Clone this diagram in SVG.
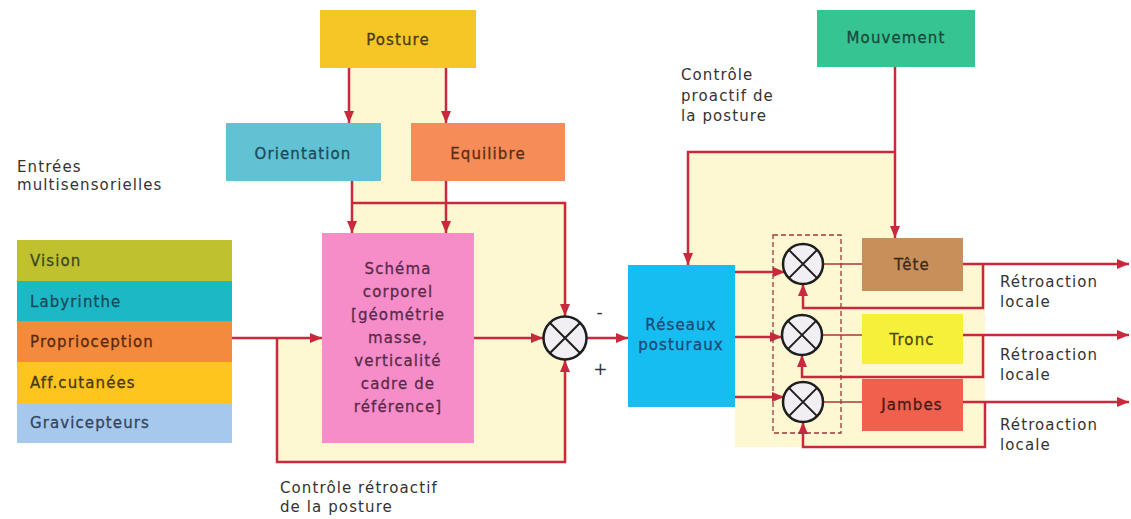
<svg xmlns="http://www.w3.org/2000/svg" width="1131" height="519" viewBox="0 0 1131 519">
<style>
text{font-family:"DejaVu Sans","Liberation Sans",sans-serif;font-size:15px;letter-spacing:1.1px;fill:#333}
.lbl{stroke-width:0.3px}
.c{text-anchor:middle}
.cn{fill:none;stroke:#c9283d;stroke-width:2.5}
.thin{fill:none;stroke:#a83838;stroke-width:1.6}
.sum{fill:#f1eef4;stroke:#1e1e1e;stroke-width:2.5}
.x{stroke:#1e1e1e;stroke-width:2}
</style>
<defs>
<marker id="ah" viewBox="0 0 12 10" refX="12" refY="5" markerWidth="12" markerHeight="10" markerUnits="userSpaceOnUse" orient="auto">
<path d="M0,0 L12,5 L0,10 Z" fill="#c9283d"/>
</marker>
</defs>
<rect width="1131" height="519" fill="#ffffff"/>
<g id="cream" fill="#fdf8d2">
<polygon points="349,68 446,68 446,203 567,203 567,462 277,462 277,338 322,338 322,233 352,233 352,123 349,123"/>
<polygon points="688,152 895,152 895,238 963,238 963,264 985,264 985,447 735,447 735,265 688,265"/>
</g>
<g id="labels">
<text x="17" y="172">Entrées</text>
<text x="17" y="190">multisensorielles</text>
<text x="681" y="80">Contrôle</text>
<text x="681" y="101">proactif de</text>
<text x="681" y="121">la posture</text>
<text x="280" y="493">Contrôle rétroactif</text>
<text x="280" y="512">de la posture</text>
<text x="1000" y="287">Rétroaction</text>
<text x="1000" y="307">locale</text>
<text x="1000" y="360">Rétroaction</text>
<text x="1000" y="380">locale</text>
<text x="1000" y="430">Rétroaction</text>
<text x="1000" y="450">locale</text>
<text x="600" y="318" class="c" style="font-size:17px">-</text>
<text x="601" y="375" class="c" style="font-size:17px">+</text>
</g>
<g id="connectors">
<path class="cn" d="M349,68 V123" marker-end="url(#ah)"/>
<path class="cn" d="M446,68 V123" marker-end="url(#ah)"/>
<path class="cn" d="M352,181 V233" marker-end="url(#ah)"/>
<path class="cn" d="M446,181 V233" marker-end="url(#ah)"/>
<path class="cn" d="M352,203 H565 V316" marker-end="url(#ah)"/>
<path class="cn" d="M232,338 H322" marker-end="url(#ah)"/>
<path class="cn" d="M277,338 V462 H565 V360" marker-end="url(#ah)"/>
<path class="cn" d="M474,338 H543" marker-end="url(#ah)"/>
<path class="cn" d="M587,338 H628" marker-end="url(#ah)"/>
<path class="cn" d="M895,67 V238" marker-end="url(#ah)"/>
<path class="cn" d="M895,152 H688 V265" marker-end="url(#ah)"/>
<path class="cn" d="M735,272 H785" marker-end="url(#ah)"/>
<path class="cn" d="M735,337 H782" marker-end="url(#ah)"/>
<path class="cn" d="M735,397 H784" marker-end="url(#ah)"/>
<path class="thin" d="M823,264 H862"/>
<path class="thin" d="M822,335 H862"/>
<path class="thin" d="M823,402 H862"/>
<path class="cn" d="M963,264 H1129" marker-end="url(#ah)"/>
<path class="cn" d="M963,335 H1129" marker-end="url(#ah)"/>
<path class="cn" d="M963,402 H1129" marker-end="url(#ah)"/>
<path class="cn" d="M983,264 V308 H803 V284" marker-end="url(#ah)"/>
<path class="cn" d="M983,335 V377 H802 V355" marker-end="url(#ah)"/>
<path class="cn" d="M985,402 V447 H803 V422" marker-end="url(#ah)"/>
<rect x="773" y="235" width="68" height="198" fill="none" stroke="#9a3a3a" stroke-width="1.3" stroke-dasharray="5 3"/>
</g>
<g id="posture"><rect x="320" y="10" width="156" height="58" fill="#f6c526"/><text class="c lbl" x="398" y="45" style="fill:#4a3c1a;stroke:#4a3c1a">Posture</text></g>
<g id="orientation"><rect x="226" y="123" width="155" height="58" fill="#60c2d2"/><text class="c lbl" x="303" y="159" style="fill:#1e4a5a;stroke:#1e4a5a">Orientation</text></g>
<g id="equilibre"><rect x="411" y="123" width="154" height="58" fill="#f68c58"/><text class="c lbl" x="488" y="159" style="fill:#5a2e18;stroke:#5a2e18">Equilibre</text></g>
<g id="schema"><rect x="322" y="233" width="152" height="210" fill="#f68dc9"/>
<g class="lbl" style="fill:#5a2a4a;stroke:#5a2a4a">
<text class="c" x="398" y="274" style="fill:#5a2a4a">Schéma</text>
<text class="c" x="398" y="297" style="fill:#5a2a4a">corporel</text>
<text class="c" x="398" y="320" style="fill:#5a2a4a">[géométrie</text>
<text class="c" x="398" y="343" style="fill:#5a2a4a">masse,</text>
<text class="c" x="398" y="366" style="fill:#5a2a4a">verticalité</text>
<text class="c" x="398" y="389" style="fill:#5a2a4a">cadre de</text>
<text class="c" x="398" y="412" style="fill:#5a2a4a">référence]</text>
</g></g>
<g id="vision"><rect x="17" y="240" width="215" height="41" fill="#bfc12e"/><text class="lbl" x="30" y="266" style="fill:#3c4a1a;stroke:#3c4a1a">Vision</text></g>
<g id="labyrinthe"><rect x="17" y="281" width="215" height="40" fill="#1db8c6"/><text class="lbl" x="30" y="307" style="fill:#1a4a5a;stroke:#1a4a5a">Labyrinthe</text></g>
<g id="proprioception"><rect x="17" y="321" width="215" height="41" fill="#f38a3e"/><text class="lbl" x="30" y="347" style="fill:#5a2a10;stroke:#5a2a10">Proprioception</text></g>
<g id="affcutanees"><rect x="17" y="362" width="215" height="41" fill="#fdc51e"/><text class="lbl" x="30" y="388" style="fill:#4a3a10;stroke:#4a3a10">Aff.cutanées</text></g>
<g id="gravicepteurs"><rect x="17" y="403" width="215" height="40" fill="#a6c8ec"/><text class="lbl" x="30" y="428" style="fill:#34445e;stroke:#34445e">Gravicepteurs</text></g>
<g id="sum-main"><circle class="sum" cx="565" cy="338" r="21.5"/><path class="x" d="M549.8,322.8 L580.2,353.2 M580.2,322.8 L549.8,353.2"/></g>
<g id="mouvement"><rect x="817" y="10" width="158" height="57" fill="#35c492"/><text class="c lbl" x="896" y="43" style="fill:#1d4a3c;stroke:#1d4a3c">Mouvement</text></g>
<g id="reseaux"><rect x="628" y="265" width="107" height="142" fill="#16bdf0"/><text class="c lbl" x="681" y="330" style="fill:#1c4a78;stroke:#1c4a78">Réseaux</text><text class="c lbl" x="681" y="350" style="fill:#1c4a78;stroke:#1c4a78">posturaux</text></g>
<g id="sum-tete"><circle class="sum" cx="803" cy="264" r="20"/><path class="x" d="M788.9,249.9 L817.1,278.1 M817.1,249.9 L788.9,278.1"/></g>
<g id="sum-tronc"><circle class="sum" cx="802" cy="335" r="20"/><path class="x" d="M787.9,320.9 L816.1,349.1 M816.1,320.9 L787.9,349.1"/></g>
<g id="sum-jambes"><circle class="sum" cx="803" cy="402" r="20"/><path class="x" d="M788.9,387.9 L817.1,416.1 M817.1,387.9 L788.9,416.1"/></g>
<g id="tete"><rect x="862" y="238" width="101" height="53" fill="#c98f5a"/><text class="c lbl" x="912" y="270" style="fill:#3a2a1a;stroke:#3a2a1a">Tête</text></g>
<g id="tronc"><rect x="862" y="314" width="101" height="50" fill="#f7f03a"/><text class="c lbl" x="912" y="345" style="fill:#4a4a10;stroke:#4a4a10">Tronc</text></g>
<g id="jambes"><rect x="862" y="379" width="101" height="52" fill="#f0604c"/><text class="c lbl" x="912" y="410" style="fill:#4a1a14;stroke:#4a1a14">Jambes</text></g>
</svg>
